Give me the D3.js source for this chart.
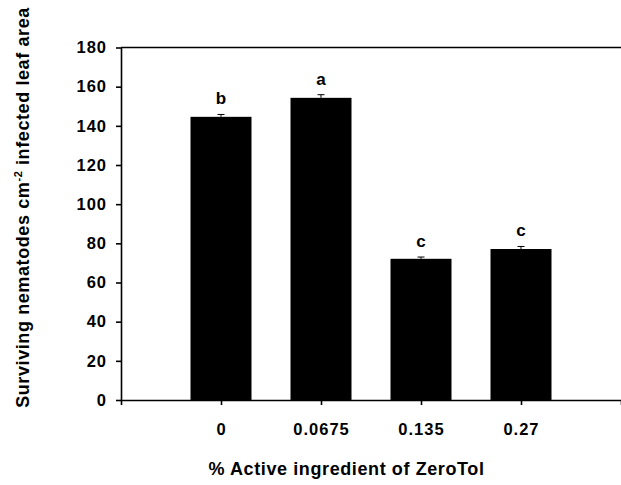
<!DOCTYPE html>
<html>
<head>
<meta charset="utf-8">
<script src="https://cdn.jsdelivr.net/npm/d3@7"></script>
<style>
  body { margin: 0; background: #fff; }
  svg { display: block; }
  text { font-family: "Liberation Sans", Arial, sans-serif; font-weight: bold; fill: #000; }
  .tick text { font-size: 16.5px; letter-spacing: 1px; }
  .domain, .tick line { stroke: #000; stroke-width: 1.6px; }
  .title { font-size: 18px; letter-spacing: 0.6px; }
  .sig { font-size: 17px; }
</style>
</head>
<body>
<svg id="chart" width="621" height="485"></svg>
<script>
// data
var doses = ['0', '0.0675', '0.135', '0.27'];
var means = [144.6, 154.3, 72.1, 77.1];
var errors = [1.2, 1.6, 0.9, 1.3];
var letters = ['b', 'a', 'c', 'c'];
var yTicks = [0, 20, 40, 60, 80, 100, 120, 140, 160, 180];

var svg = d3.select('#chart');

var plotLeft = 121, plotRight = 621, plotTop = 47.5, plotBottom = 400;

var x = d3.scalePoint()
    .domain(doses)
    .range([plotLeft, plotRight])
    .padding(1);

var y = d3.scaleLinear()
    .domain([0, 180])
    .range([plotBottom, plotTop]);

var barW = x.step() * 0.61;

var rows = doses.map(function(d, i){
    return {dose: d, mean: means[i], err: errors[i], letter: letters[i]};
});

// top frame line
svg.append('line')
    .attr('x1', plotLeft)
    .attr('x2', plotRight)
    .attr('y1', y(180))
    .attr('y2', y(180))
    .style('stroke', '#000')
    .style('stroke-width', 1.4);

// bars
svg.selectAll('rect.bar')
    .data(rows)
    .enter()
    .append('rect')
    .attr('class', 'bar')
    .attr('x', function(d){ return x(d.dose) - barW / 2; })
    .attr('width', barW)
    .attr('y', function(d){ return y(d.mean); })
    .attr('height', function(d){ return y(0) - y(d.mean); })
    .style('fill', '#000');

// error bars (upper only)
var eb = svg.selectAll('g.err')
    .data(rows)
    .enter()
    .append('g')
    .attr('class', 'err');

eb.append('line')
    .attr('x1', function(d){ return x(d.dose); })
    .attr('x2', function(d){ return x(d.dose); })
    .attr('y1', function(d){ return y(d.mean); })
    .attr('y2', function(d){ return y(d.mean + d.err); })
    .style('stroke', '#000')
    .style('stroke-width', 1);

eb.append('line')
    .attr('x1', function(d){ return x(d.dose) - 3.5; })
    .attr('x2', function(d){ return x(d.dose) + 3.5; })
    .attr('y1', function(d){ return y(d.mean + d.err); })
    .attr('y2', function(d){ return y(d.mean + d.err); })
    .style('stroke', '#000')
    .style('stroke-width', 1);

// significance letters
svg.selectAll('text.sig')
    .data(rows)
    .enter()
    .append('text')
    .attr('class', 'sig')
    .attr('x', function(d){ return x(d.dose); })
    .attr('y', function(d){ return y(d.mean + d.err) - 10; })
    .attr('text-anchor', 'middle')
    .text(function(d){ return d.letter; });

// axes
svg.append('g')
    .attr('transform', 'translate(' + plotLeft + ',0)')
    .call(d3.axisLeft(y).tickValues(yTicks).tickSize(5).tickSizeOuter(0).tickPadding(9));

svg.append('g')
    .attr('transform', 'translate(0,' + plotBottom + ')')
    .call(d3.axisBottom(x).tickSize(5).tickSizeOuter(5).tickPadding(18));

// axis titles
svg.append('text')
    .attr('class', 'title')
    .attr('x', 346.5)
    .attr('y', 475)
    .attr('text-anchor', 'middle')
    .text('% Active ingredient of ZeroTol');

var yl = svg.append('text')
    .attr('class', 'title')
    .attr('text-anchor', 'middle')
    .attr('transform', 'translate(29,207.5) rotate(-90)');
yl.append('tspan').text('Surviving nematodes cm');
yl.append('tspan')
    .attr('dy', -7)
    .style('font-size', '11px')
    .text('-2');
yl.append('tspan')
    .attr('dy', 7)
    .text(' infected leaf area');
</script>
</body>
</html>
